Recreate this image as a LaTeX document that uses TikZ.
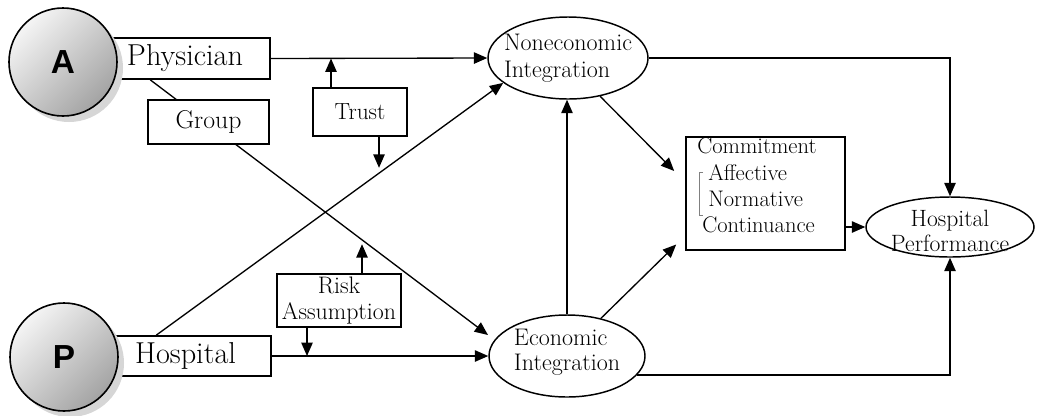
\documentclass[tikz,border=0pt]{standalone}
\usepackage{fontspec}
\newfontfamily\circfont{Liberation Sans}
\usetikzlibrary{arrows.meta,calc,shapes.geometric}
\pgfdeclarelayer{bg}
\pgfsetlayers{bg,main}
\tikzset{
  conn/.style={draw=black, line width=1pt},
  arr/.style={conn, -{Triangle[length=10pt,width=8.5pt]}},
  boxnode/.style={draw, line width=1.2pt, fill=white, inner sep=0pt},
  big/.style={font=\fontsize{22.7}{26}\selectfont},
  small/.style={font=\fontsize{18}{19.5}\selectfont},
  cfont/.style={font=\fontsize{16.9}{19}\selectfont, inner sep=0pt},
  ell/.style={ellipse, draw, line width=1.1pt, fill=white, inner sep=0pt},
  ball/.style={circle, draw, line width=1.2pt, minimum size=81pt, inner sep=0pt,
    top color=gray!8, bottom color=gray!72, shading angle=45,
    font=\circfont\bfseries\fontsize{25}{25}\selectfont},
  shadowball/.style={circle, fill=gray!32, minimum size=81pt, inner sep=0pt}
}
\begin{document}
\begin{tikzpicture}[x=0.75pt,y=-0.75pt]
\useasboundingbox (0,0) rectangle (1037,415);
% boxes
\node[boxnode, big, minimum width=127.5pt, minimum height=30.75pt] (phys) at (185,58.5) {Physician};
\node[boxnode, big, minimum width=128.25pt, minimum height=30pt] (hosp) at (185.5,356) {Hospital};
\node[boxnode, font=\fontsize{19.3}{22}\selectfont, minimum width=90.75pt, minimum height=33pt] (group) at (208.5,122) {Group};
\node[boxnode, font=\fontsize{17.5}{20}\selectfont, minimum width=70.5pt, minimum height=36pt] (trust) at (360,112) {Trust};
\node[boxnode, font=\fontsize{17.9}{19.5}\selectfont, align=center, minimum width=93pt, minimum height=39.75pt] (risk) at (339,300.5) {Risk\\Assumption};
% circles
\node[shadowball] (shA) at (69,68) {};
\node[ball] (circA) at (63,62) {A};
\node[shadowball] (shP) at (70,363) {};
\node[ball] (circP) at (64,357) {P};
% ellipses
\node[ell, minimum width=120pt, minimum height=61.5pt,
  label={[font=\fontsize{18}{20}\selectfont,align=left]center:Noneconomic\\Integration}] (nonecon) at (568,58) {};
\node[ell, minimum width=117pt, minimum height=61.5pt,
  label={[font=\fontsize{18}{18.75}\selectfont,align=left,yshift=3pt]center:Economic\\Integration}] (econ) at (567,356) {};
\node[ell, minimum width=126pt, minimum height=45pt,
  label={[font=\fontsize{17.7}{18.75}\selectfont,align=center,yshift=-3pt]center:Hospital\\Performance}] (perf) at (950,227) {};
% commitment
\node[boxnode, minimum width=119.25pt, minimum height=84.75pt] (commit) at (765.5,193.5) {};
\node[cfont, anchor=base west] (c1) at (697,153) {Commitment};
\node[cfont, anchor=base west] (c2) at (708,180) {Affective};
\node[cfont, anchor=base west] (c3) at (708,206) {Normative};
\node[cfont, anchor=base west] (c4) at (702,232) {Continuance};
\draw[gray, line width=0.6pt] (703,172) -- (699,172) -- (699,215) -- (703,215);
% connectors
\draw[arr] (phys.east) -- (nonecon.west);
\begin{pgfonlayer}{bg}
\draw[arr] ($(phys.south west)+(51,0)$) -- ($(econ.center)+(-79,-21)$);
\end{pgfonlayer}
\draw[arr] ($(hosp.north west)+(57,0)$) -- (nonecon.201);
\draw[arr] (hosp.east) -- (econ.west);
\draw[arr] (econ.north) -- (econ.north |- nonecon.south);
\draw[arr] (nonecon.310) -- ($(commit.west)+(-11,-22.5)$);
\draw[arr] (econ.48) -- ($(commit.west)+(-9,51)$);
\draw[arr] (commit.east |- perf.west) -- (perf.west);
\draw[arr] (nonecon.east) -| (perf.north);
\draw[arr] (econ.345) -| (perf.south);
% moderators
\coordinate (tu) at ($(trust.north)+(-29,0)$);
\draw[arr] (tu) -- (tu |- phys.east);
\coordinate (td) at ($(trust.south)+(19,0)$);
\coordinate (tdend) at ($(trust.south)+(19,31)$);
\draw[arr] (td) -- (tdend);
\coordinate (ru) at ($(risk.north)+(23,0)$);
\coordinate (ruend) at ($(risk.north)+(23,-29)$);
\draw[arr] (ru) -- (ruend);
\coordinate (rd) at ($(risk.south)+(-32,0)$);
\draw[arr] (rd) -- (rd |- hosp.east);
\end{tikzpicture}
\end{document}
